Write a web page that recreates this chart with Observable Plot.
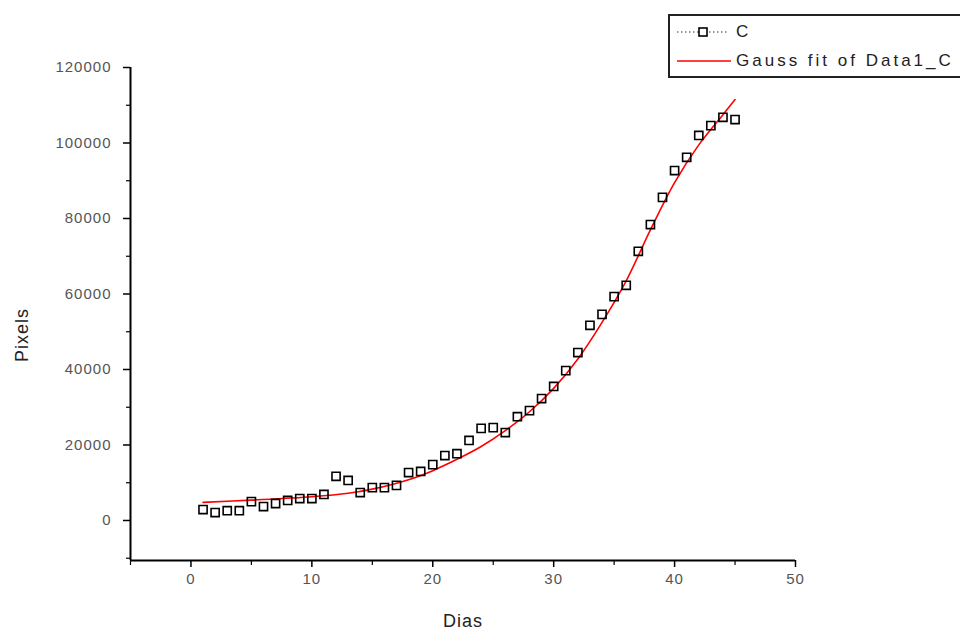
<!DOCTYPE html>
<html>
<head>
<meta charset="utf-8">
<script src="https://cdn.jsdelivr.net/npm/d3@7"></script>
<script src="https://cdn.jsdelivr.net/npm/@observablehq/plot@0.6"></script>
<style>
  html, body { margin: 0; padding: 0; background: #fff; overflow: hidden; width: 960px; height: 635px; }
  #wrap { position: relative; width: 960px; height: 635px; }
  #legend { position: absolute; left: 668px; top: 14px; width: 300px; height: 60px; border: 2px solid #222; background: #fff;
    font-family: "Liberation Sans", Arial, sans-serif; font-size: 17px; color: #222; }
  .row { position: absolute; left: 0; display: flex; align-items: center; }
  .row span { letter-spacing: 3px; }
  #ylab { position: absolute; left: 22px; top: 335px; transform: translate(-50%, -50%) rotate(-90deg);
    font-family: "Liberation Sans", Arial, sans-serif; font-size: 18px; color: #222; letter-spacing: 1px; white-space: nowrap; }
</style>
</head>
<body>
<div id="wrap">
  <div id="chart"></div>
  <div id="ylab">Pixels</div>
  <div id="legend">
    <div class="row" style="top:6px">
      <svg width="66" height="20"><line x1="7" x2="59" y1="10" y2="10" stroke="#333" stroke-width="1.2" stroke-dasharray="1.5,2.5"/><rect x="29" y="6" width="8" height="8" fill="#fff" stroke="#000" stroke-width="1.6"/></svg>
      <span>C</span>
    </div>
    <div class="row" style="top:35px">
      <svg width="66" height="20"><line x1="7" x2="61" y1="10" y2="10" stroke="#ff0000" stroke-width="1.6"/></svg>
      <span>Gauss fit of Data1_C</span>
    </div>
  </div>
</div>
<script>
const days = [1,2,3,4,5,6,7,8,9,10,11,12,13,14,15,16,17,18,19,20,21,22,23,24,25,26,27,28,29,30,31,32,33,34,35,36,37,38,39,40,41,42,43,44,45];
const pixels = [2900,2100,2600,2600,5000,3700,4500,5300,5800,5800,6900,11700,10600,7400,8700,8700,9300,12700,13000,14800,17200,17700,21200,24400,24600,23300,27500,29100,32300,35500,39700,44500,51700,54600,59300,62300,71300,78400,85600,92700,96200,102000,104600,106800,106200];
const fitDays = [1,5,10,13,15,18,20,22,24,26,28,30,32,34,36,38,40,42,44,45];
const fitPixels = [4800,5400,6300,7200,8300,10800,13200,16200,19600,23800,28800,35000,42800,52500,63500,77000,89500,99500,107500,111500];
const xMajor = [0,10,20,30,40,50];
const xMinor = [-5,5,15,25,35,45];
const yMajor = [0,20000,40000,60000,80000,100000,120000];
const yMinor = [-10000,10000,30000,50000,70000,90000,110000];

const points = days.map((d, i) => ({x: d, y: pixels[i]}));
const fit = fitDays.map((d, i) => ({x: d, y: fitPixels[i]}));
const yMin = -10600;

const chart = Plot.plot({
  width: 960,
  height: 635,
  marginLeft: 130,
  marginRight: 165,
  marginTop: 67,
  marginBottom: 75,
  style: {fontFamily: "'Liberation Sans', Arial, sans-serif", fontSize: "15px", color: "#333", background: "#fff", letterSpacing: "1px"},
  x: {domain: [-5, 50]},
  y: {domain: [yMin, 120000]},
  marks: [
    Plot.axisX(xMajor, {tickSize: 7, tickPadding: 6, tickFormat: d3.format("d"), label: null, stroke: "#000", strokeWidth: 1.5, fill: "#555", fontSize: 15}),
    Plot.axisX(xMinor, {tickSize: 5, tickFormat: () => "", label: null, stroke: "#000", strokeWidth: 1.2}),
    Plot.axisY(yMajor, {tickSize: 7, tickPadding: 12, tickFormat: d3.format("d"), label: null, stroke: "#000", strokeWidth: 1.5, fill: "#555", fontSize: 15}),
    Plot.axisY(yMinor.filter(v => v > yMin), {tickSize: 4, tickFormat: () => "", label: null, stroke: "#000", strokeWidth: 1.2}),
    Plot.ruleX([-5], {stroke: "#000", strokeWidth: 2}),
    Plot.ruleY([yMin], {stroke: "#000", strokeWidth: 2}),
    Plot.line(fit, {x: "x", y: "y", stroke: "#ff0000", strokeWidth: 1.6, curve: "catmull-rom"}),
    Plot.dot(points, {x: "x", y: "y", symbol: "square", r: 4.6, stroke: "#000", strokeWidth: 1.6, fill: "none"}),
    Plot.text(["Dias"], {frameAnchor: "bottom", dy: 66, fontSize: 18, fill: "#222"})
  ]
});
document.getElementById("chart").appendChild(chart);
</script>
</body>
</html>
